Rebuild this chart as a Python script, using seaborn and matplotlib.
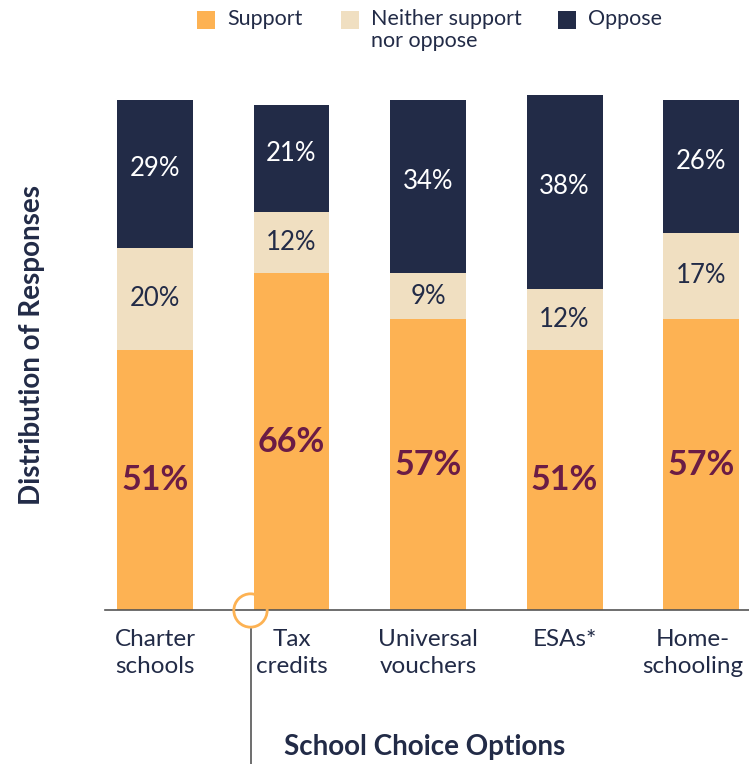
import numpy as np
import pandas as pd
import seaborn as sns
import matplotlib.pyplot as plt
import matplotlib.transforms as mtransforms
from matplotlib.patches import Rectangle
from matplotlib.lines import Line2D

# Datos
opciones = ["Charter\nschools", "Tax\ncredits", "Universal\nvouchers", "ESAs*", "Home-\nschooling"]
apoya = [51, 66, 57, 51, 57]
neutral = [20, 12, 9, 12, 17]
opone = [29, 21, 34, 38, 26]
series = ["Support", "Neither support\nnor oppose", "Oppose"]

# Colores
c_apoya = "#FDB253"
c_neutral = "#F0DFC1"
c_opone = "#222B47"
c_texto = "#222B47"
c_morado = "#6B1C45"

df = pd.DataFrame({"opcion": opciones, "apoya": apoya, "neutral": neutral, "opone": opone})
df["base_neutral"] = df["apoya"]
df["base_opone"] = df["apoya"] + df["neutral"]

sns.set_style("white")
plt.rcParams["font.family"] = ["Lato", "DejaVu Sans"]

fig = plt.figure(figsize=(7.49, 7.64), dpi=100)
ax = fig.add_axes([105 / 749, 1 - 610 / 764, 644 / 749, 530 / 764])

ancho = 0.556
sns.barplot(data=df, x="opcion", y="apoya", color=c_apoya, width=ancho, saturation=1,
            linewidth=0, ax=ax)
sns.barplot(data=df, x="opcion", y="neutral", bottom=df["base_neutral"], color=c_neutral,
            width=ancho, saturation=1, linewidth=0, ax=ax)
sns.barplot(data=df, x="opcion", y="opone", bottom=df["base_opone"], color=c_opone,
            width=ancho, saturation=1, linewidth=0, ax=ax)

# Etiquetas de valores
for i, fila in df.iterrows():
    ax.text(i, fila["apoya"] / 2, f"{fila['apoya']}%", ha="center", va="center",
            fontsize=24.5, fontweight="bold", color=c_morado)
    ax.text(i, fila["base_neutral"] + fila["neutral"] / 2, f"{fila['neutral']}%", ha="center",
            va="center", fontsize=18.5, color=c_texto)
    ax.text(i, fila["base_opone"] + fila["opone"] / 2 + 1, f"{fila['opone']}%", ha="center",
            va="center", fontsize=18.5, color="white")

ax.set_xlim(-0.366, 4.351)
ax.set_ylim(0, 530 / 5.1)
ax.set_yticks([])
ax.set_xlabel("")
ax.set_ylabel("")
for lado in ["top", "right", "left"]:
    ax.spines[lado].set_visible(False)
ax.spines["bottom"].set_color("#555555")
ax.spines["bottom"].set_linewidth(1.2)
ax.tick_params(axis="x", length=0, pad=14, labelsize=17.5, labelcolor=c_texto)
for t in ax.get_xticklabels():
    t.set_linespacing(1.35)
# la ultima etiqueta se corre un poco a la izquierda para que no se corte
ultima = ax.get_xticklabels()[-1]
ultima.set_transform(ultima.get_transform() + mtransforms.ScaledTranslation(-8 / 100, 0, fig.dpi_scale_trans))

# Titulos de ejes
fig.text(32 / 749, 1 - 345 / 764, "Distribution of Responses", rotation=90, ha="center",
         va="center", fontsize=20, fontweight="bold", color=c_texto)
fig.text(425 / 749, 1 - 747 / 764, "School Choice Options", ha="center", va="center",
         fontsize=20, fontweight="bold", color=c_texto)

# Decoracion: circulo y linea vertical
ax.plot([0.225], [0], transform=ax.transAxes, marker="o", markersize=24, markerfacecolor="none",
        markeredgecolor=c_apoya, markeredgewidth=2, clip_on=False, zorder=5)
fig.add_artist(Line2D([251 / 749, 251 / 749], [1 - 629 / 764, 0], transform=fig.transFigure,
                      color="#555555", linewidth=1.2))

# Leyenda manual
pos_cuadro = [197, 341, 558]
for x0, color, nombre in zip(pos_cuadro, [c_apoya, c_neutral, c_opone], series):
    fig.add_artist(Rectangle((x0 / 749, 1 - 29 / 764), 18 / 749, 18 / 764,
                             transform=fig.transFigure, facecolor=color, edgecolor="none"))
    fig.text((x0 + 30) / 749, 1 - 9 / 764, nombre, ha="left", va="top", fontsize=15.5,
             color=c_texto, linespacing=1.1)

fig.savefig("out.png", dpi=100)
